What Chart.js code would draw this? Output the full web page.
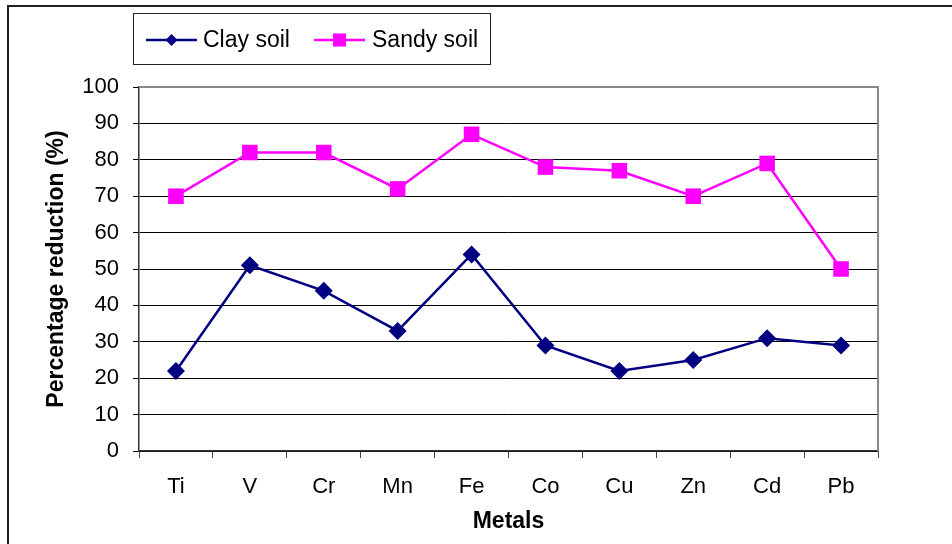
<!DOCTYPE html>
<html>
<head>
<meta charset="utf-8">
<script src="https://cdn.jsdelivr.net/npm/chart.js@4/dist/chart.umd.min.js"></script>
<style>
  html, body { margin: 0; padding: 0; background: #fff; overflow: hidden; }
  #wrap { position: relative; width: 952px; height: 544px; }
  #frame { position: absolute; left: 7px; top: 5px; width: 1000px; height: 600px;
           border-left: 2px solid #222; border-top: 2px solid #222; }
  #chart { position: absolute; left: 0; top: 0; }
</style>
</head>
<body>
<div id="wrap">
  <div id="frame"></div>
  <canvas id="chart" width="952" height="544"></canvas>
</div>
<script>
const metals = ["Ti", "V", "Cr", "Mn", "Fe", "Co", "Cu", "Zn", "Cd", "Pb"];
const claySoil = [22, 51, 44, 33, 54, 29, 22, 25, 31, 29];
const sandySoil = [70, 82, 82, 72, 87, 78, 77, 70, 79, 50];
const yTicks = [0, 10, 20, 30, 40, 50, 60, 70, 80, 90, 100];

const FONT = "'Liberation Sans', Arial, sans-serif";

// gray frame on top and right of the plot area
const plotFrame = {
  id: 'plotFrame',
  beforeDatasetsDraw(chart) {
    const { ctx, chartArea: a } = chart;
    ctx.save();
    ctx.strokeStyle = '#888';
    ctx.lineWidth = 2;
    ctx.beginPath();
    ctx.moveTo(a.left, a.top);
    ctx.lineTo(a.right, a.top);
    ctx.lineTo(a.right, a.bottom);
    ctx.stroke();
    ctx.restore();
  }
};

// boxed legend with line + marker samples
const boxLegend = {
  id: 'boxLegend',
  afterDraw(chart) {
    const ctx = chart.ctx;
    ctx.save();
    ctx.strokeStyle = '#222';
    ctx.lineWidth = 1;
    ctx.strokeRect(133.5, 13.5, 357, 51);

    const items = [
      { x: 146, textX: 203 },
      { x: 314, textX: 372 }
    ];
    const cy = 40;
    chart.data.datasets.forEach((ds, i) => {
      const it = items[i];
      ctx.strokeStyle = ds.borderColor;
      ctx.lineWidth = 2.5;
      ctx.beginPath();
      ctx.moveTo(it.x, cy);
      ctx.lineTo(it.x + 51, cy);
      ctx.stroke();
      const mx = it.x + 25.5;
      ctx.fillStyle = ds.backgroundColor;
      ctx.beginPath();
      if (ds.pointStyle === 'rectRot') {
        const r = 6;
        ctx.moveTo(mx, cy - r);
        ctx.lineTo(mx + r, cy);
        ctx.lineTo(mx, cy + r);
        ctx.lineTo(mx - r, cy);
      } else {
        const h = 6.5;
        ctx.rect(mx - h, cy - h, 2 * h, 2 * h);
      }
      ctx.closePath();
      ctx.fill();
      ctx.fillStyle = '#000';
      ctx.font = '23px ' + FONT;
      ctx.textBaseline = 'middle';
      ctx.textAlign = 'left';
      ctx.fillText(ds.label, it.textX, cy + 1);
    });
    ctx.restore();
  }
};

new Chart(document.getElementById('chart'), {
  type: 'line',
  data: {
    labels: metals,
    datasets: [
      {
        label: 'Clay soil',
        data: claySoil,
        borderColor: '#000080',
        backgroundColor: '#000080',
        borderWidth: 2.5,
        pointStyle: 'rectRot',
        pointRadius: 9,
        pointBorderWidth: 0,
        pointHoverRadius: 9,
        tension: 0
      },
      {
        label: 'Sandy soil',
        data: sandySoil,
        borderColor: '#ff00ff',
        backgroundColor: '#ff00ff',
        borderWidth: 2.5,
        pointStyle: 'rect',
        pointRadius: 11,
        pointBorderWidth: 0,
        pointHoverRadius: 11,
        tension: 0
      }
    ]
  },
  options: {
    responsive: false,
    maintainAspectRatio: false,
    animation: false,
    events: [],
    layout: { padding: { left: 0, top: 87, right: 74, bottom: 0 } },
    plugins: {
      legend: { display: false },
      tooltip: { enabled: false }
    },
    scales: {
      x: {
        offset: true,
        grid: {
          offset: true,
          drawOnChartArea: false,
          drawTicks: true,
          tickLength: 7,
          tickColor: '#444'
        },
        border: { color: '#333', width: 1.5 },
        ticks: {
          color: '#000',
          font: { family: FONT, size: 22 },
          padding: 16,
          maxRotation: 0
        },
        title: {
          display: true,
          text: 'Metals',
          color: '#000',
          font: { family: FONT, size: 23, weight: 'bold' },
          padding: { top: 0, bottom: 9 }
        },
        afterFit(scale) { scale.height = 93; }
      },
      y: {
        min: 0,
        max: 100,
        afterBuildTicks(scale) { scale.ticks = yTicks.map(v => ({ value: v })); },
        grid: {
          color: '#000',
          lineWidth: 1,
          tickLength: 6,
          tickColor: '#000'
        },
        border: { color: '#333', width: 1.5 },
        ticks: {
          color: '#000',
          font: { family: FONT, size: 22 },
          padding: 14
        },
        title: {
          display: true,
          text: 'Percentage reduction (%)',
          color: '#000',
          font: { family: FONT, size: 23, weight: 'bold' },
          padding: { top: 43, bottom: 0 }
        },
        afterFit(scale) { scale.width = 139; }
      }
    }
  },
  plugins: [plotFrame, boxLegend]
});
</script>
</body>
</html>
